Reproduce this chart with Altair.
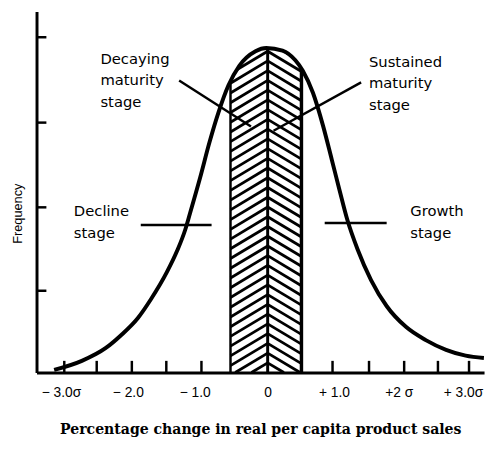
import altair as alt
import pandas as pd

# ---- data (x in sigma units, y = relative frequency) ----
CURVE_X = [-3.16, -2.75, -2.40, -2.17, -1.92, -1.73, -1.49, -1.34, -1.22, -1.15, -1.00, -0.86,
           -0.73, -0.58, -0.42, -0.18, -0.02, 0.22, 0.41, 0.52, 0.67, 0.82, 0.95, 1.06,
           1.18, 1.33, 1.53, 1.76, 2.05, 2.34, 2.64, 2.93, 3.20]
CURVE_Y = [0.008, 0.036, 0.075, 0.115, 0.168, 0.225, 0.310, 0.375, 0.440, 0.490, 0.600, 0.710,
           0.800, 0.885, 0.945, 0.990, 1.000, 0.992, 0.962, 0.930, 0.862, 0.760, 0.655, 0.565,
           0.470, 0.380, 0.285, 0.205, 0.140, 0.100, 0.070, 0.052, 0.045]

LABEL_POS = [-3.06, -2.07, -1.08, 0.0, 0.98, 1.94, 2.89]
LABEL_TEXT = ["\u2212 3.0\u03c3", "\u2212 2.0", "\u2212 1.0", "0", "+ 1.0", "+2 \u03c3", "+ 3.0\u03c3"]
XTICKS = [-3.01, -2.53, -2.01, -1.50, -0.98, 0.96, 1.50, 2.02, 2.52, 2.98]
YTICKS = [0.252, 0.509, 0.770, 1.033]

HATCH_EDGES = [-0.55, 0.0, 0.50]
HATCH_EDGE_W = [2.5, 3.0, 3.5]

ANN_X = [-2.475, -2.475, -2.475, 1.499, 1.499, 1.499, -2.868, -2.868, 2.111, 2.111]
ANN_Y = [0.9515, 0.8848, 0.8182, 0.9424, 0.8758, 0.8091, 0.4818, 0.4152, 0.4818, 0.4152]
ANN_TEXT = ["Decaying", "maturity", "stage", "Sustained", "maturity", "stage",
            "Decline", "stage", "Growth", "stage"]

PTR_X = [-1.310, 1.383, -1.878, 0.844]
PTR_Y = [0.900, 0.894, 0.4545, 0.4606]
PTR_X2 = [-0.247, 0.087, -0.830, 1.761]
PTR_Y2 = [0.758, 0.745, 0.4545, 0.4606]

XMIN, XMAX = -3.4207, 3.2023
YMIN, YMAX = 0.0, 1.1121

# ---- hatch pattern (decorative fill style) ----
SLOPE = 0.125     # rise per sigma
SPACING = 0.030
hx, hy, hx2, hy2 = [], [], [], []
k = 1
while k * SPACING < 1.08:
    c = k * SPACING
    L = HATCH_EDGES[0]
    y0 = c + L * SLOPE
    x0 = L
    if y0 < 0:
        x0 = L - y0 / SLOPE
        y0 = 0.0
    hx.append(x0); hy.append(y0); hx2.append(0.0); hy2.append(c)
    R = HATCH_EDGES[2]
    y1 = c - R * SLOPE
    x1 = R
    if y1 < 0:
        x1 = c / SLOPE
        y1 = 0.0
    hx.append(0.0); hy.append(c); hx2.append(x1); hy2.append(y1)
    k += 1

curve = pd.DataFrame({"x": CURVE_X, "y": CURVE_Y, "top": [YMAX] * len(CURVE_X)})
hatch = pd.DataFrame({"x": hx, "y": hy, "x2": hx2, "y2": hy2})
edges = pd.DataFrame({"x": HATCH_EDGES, "y": [0.0] * 3, "y2": [1.05] * 3, "w": HATCH_EDGE_W})
ann = pd.DataFrame({"x": ANN_X, "y": ANN_Y, "t": ANN_TEXT})
ptr = pd.DataFrame({"x": PTR_X, "y": PTR_Y, "x2": PTR_X2, "y2": PTR_Y2})
xt = pd.DataFrame({"x": XTICKS, "y": [0.0] * len(XTICKS), "y2": [0.036] * len(XTICKS)})
yt = pd.DataFrame({"y": YTICKS, "x": [XMIN] * len(YTICKS), "x2": [XMIN + 0.146] * len(YTICKS)})

expr = "''"
for v, t in reversed(list(zip(LABEL_POS, LABEL_TEXT))):
    expr = f"datum.value === {v} ? '{t}' : " + expr

xscale = alt.Scale(domain=[XMIN, XMAX], nice=False, zero=False)
yscale = alt.Scale(domain=[YMIN, YMAX], nice=False, zero=False)
XTITLE = "Percentage change in real per capita product sales"

xaxis = alt.Axis(values=LABEL_POS, labelExpr=expr, ticks=False, grid=False,
                 domainColor="black", domainWidth=3, labelFont="Liberation Sans",
                 labelFontSize=14, labelColor="black", labelPadding=13, labelOverlap=False,
                 labelBound=False, labelFlush=False,
                 titleFont="DejaVu Serif", titleFontSize=14.3, titleFontWeight="bold",
                 titleColor="black", titleY=62, titleBaseline="alphabetic", zindex=1)
yaxis = alt.Axis(ticks=False, labels=False, grid=False, domainColor="black", domainWidth=3,
                 titleFont="Liberation Sans", titleFontSize=13, titleFontWeight="normal",
                 titleColor="black", titleX=-19, titleY=205, titleAngle=270,
                 titleAlign="center", titleBaseline="middle", zindex=1)

X = alt.X("x:Q", scale=xscale, axis=xaxis, title=XTITLE)
Y = alt.Y("y:Q", scale=yscale, axis=yaxis, title="Frequency")

hatch_layer = alt.Chart(hatch).mark_rule(color="black", strokeWidth=2.8).encode(
    x=X, y=Y, x2="x2:Q", y2="y2:Q")
edge_layer = alt.Chart(edges).mark_rule(color="black").encode(
    x=X, y=Y, y2="y2:Q", strokeWidth=alt.StrokeWidth("w:Q", scale=None))
mask_layer = alt.Chart(curve).mark_area(color="white", interpolate="monotone", opacity=1).encode(
    x=X, y=Y, y2="top:Q")
curve_layer = alt.Chart(curve).mark_line(color="black", strokeWidth=4, interpolate="monotone").encode(
    x=X, y=Y)
ptr_layer = alt.Chart(ptr).mark_rule(color="black", strokeWidth=2.5).encode(
    x=X, y=Y, x2="x2:Q", y2="y2:Q")
ann_layer = alt.Chart(ann).mark_text(align="left", baseline="alphabetic", font="DejaVu Sans",
                                     fontSize=15, color="black").encode(x=X, y=Y, text="t:N")
xt_layer = alt.Chart(xt).mark_rule(color="black", strokeWidth=2.5).encode(x=X, y=Y, y2="y2:Q")
yt_layer = alt.Chart(yt).mark_rule(color="black", strokeWidth=2.5).encode(x=X, x2="x2:Q", y=Y)

chart = alt.layer(hatch_layer, edge_layer, mask_layer, curve_layer, ptr_layer, ann_layer,
                  xt_layer, yt_layer).properties(
    width=455, height=367,
    padding={"left": 29, "top": 0, "right": 3, "bottom": 68},
    autosize=alt.AutoSizeParams(type="none"),
    background="white",
).configure_view(stroke=None)

chart.save("out.html", embed_options={"renderer": "svg", "actions": False})
